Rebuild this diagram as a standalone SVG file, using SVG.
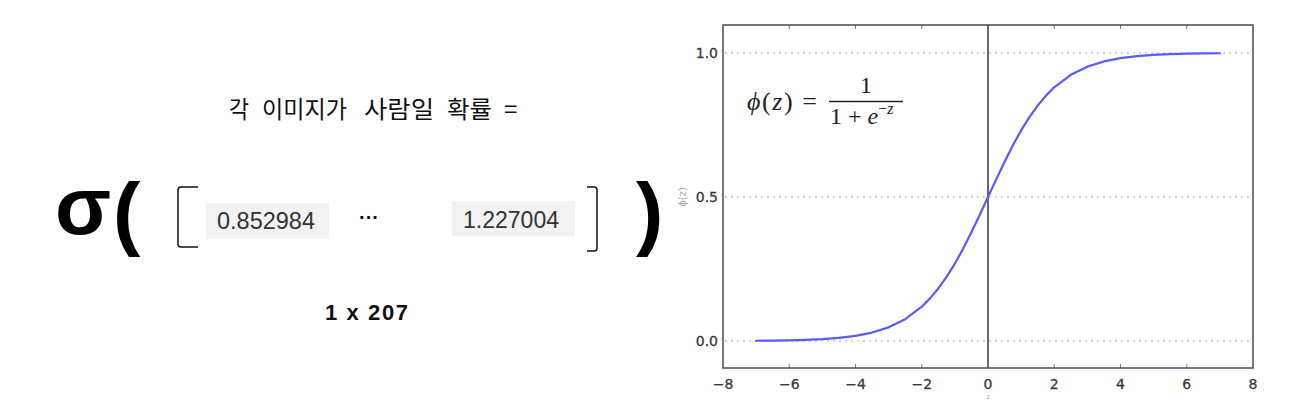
<svg xmlns="http://www.w3.org/2000/svg" width="1293" height="401" viewBox="0 0 1293 401">
<style>
.kr{font-family:"Noto Sans CJK KR","Noto Sans",sans-serif;font-size:24px;fill:#111}
.num{font-family:"Liberation Sans",Arial,sans-serif;font-size:23px;fill:#333}
.big{font-family:"Liberation Sans",Arial,sans-serif;font-weight:bold;font-size:82px;fill:#000}
.box{fill:#f2f2f2}
.brk{fill:none;stroke:#111;stroke-width:1.5}
.tick{font-family:"DejaVu Sans",sans-serif;font-size:14px;fill:#3a3a3a;stroke:#3a3a3a;stroke-width:0.3}
.grid{stroke:#aaa;stroke-width:1.2;stroke-dasharray:2 4}
.frame{fill:none;stroke:#555;stroke-width:1.6}
.tk{stroke:#777;stroke-width:1}
.math{font-family:"Liberation Serif","DejaVu Serif",serif;fill:#222}
</style>
<rect width="1293" height="401" fill="#fff"/>
<g id="title">
<text class="kr" x="229" y="118" textLength="20" lengthAdjust="spacingAndGlyphs">각</text>
<text class="kr" x="262" y="118" textLength="85" lengthAdjust="spacingAndGlyphs">이미지가</text>
<text class="kr" x="364" y="118" textLength="70" lengthAdjust="spacingAndGlyphs">사람일</text>
<text class="kr" x="447" y="118" textLength="45" lengthAdjust="spacingAndGlyphs">확률</text>
<text class="kr" x="504" y="118">=</text>
</g>
<g id="sigma">
<text class="big" x="55" y="234">σ<tspan dx="2" dy="6">(</tspan></text>
<text class="big" x="636" y="240">)</text>
</g>
<g id="vector">
<path class="brk" d="M198,187 H181 Q178,187 178,190 V244 Q178,247 181,247 H198"/>
<path class="brk" d="M587,187 H594 Q597,187 597,190 V248 Q597,251 594,251 H587"/>
<rect class="box" x="206" y="203" width="123" height="36"/>
<text class="num" x="217" y="229" textLength="98" lengthAdjust="spacingAndGlyphs">0.852984</text>
<text x="369" y="224" text-anchor="middle" font-family="Liberation Sans,Arial,sans-serif" font-size="20" font-weight="bold" fill="#111">···</text>
<rect class="box" x="452" y="201" width="123" height="35"/>
<text class="num" x="463" y="228" textLength="96" lengthAdjust="spacingAndGlyphs">1.227004</text>
</g>
<g id="shape-label">
<text x="325" y="320" font-family="Liberation Sans,Arial,sans-serif" font-size="22" font-weight="bold" fill="#111" textLength="83" lengthAdjust="spacing">1 x 207</text>
</g>
<g id="plot">
<line class="grid" x1="725" y1="53" x2="1252" y2="53"/>
<line class="grid" x1="725" y1="197" x2="1252" y2="197"/>
<line class="grid" x1="725" y1="341" x2="1252" y2="341"/>
<g class="tk">
<path d="M789.25,25v4M855.5,25v4M921.75,25v4M1054.25,25v4M1120.5,25v4M1186.75,25v4M789.25,368v-4M855.5,368v-4M921.75,368v-4M1054.25,368v-4M1120.5,368v-4M1186.75,368v-4"/>
</g>
<line x1="988" y1="25" x2="988" y2="368" stroke="#444" stroke-width="1.6"/>
<polyline fill="none" stroke="#5a5aff" stroke-width="2.2" stroke-linejoin="round" stroke-linecap="round" points="756.1,340.74 772.7,340.57 789.25,340.29 805.8,339.83 822.4,339.07 838.9,337.84 855.5,335.82 872.1,332.56 888.6,327.34 905.2,319.15 921.75,306.67 930,298.36 938.3,288.46 946.6,276.86 954.9,263.55 963.2,248.6 971.4,232.27 979.7,214.91 988,197 996.3,179.09 1004.6,161.73 1012.8,145.4 1021.1,130.45 1029.4,117.14 1037.7,105.54 1046,95.64 1054.25,87.33 1070.8,74.85 1087.4,66.66 1103.9,61.44 1120.5,58.18 1137.1,56.16 1153.6,54.93 1170.2,54.17 1186.75,53.71 1203.3,53.43 1219.9,53.26"/>
<rect class="frame" x="723" y="25" width="530" height="343"/>
<g class="tick" text-anchor="end">
<text x="718" y="58">1.0</text>
<text x="718" y="202">0.5</text>
<text x="718" y="346">0.0</text>
</g>
<g class="tick" text-anchor="middle">
<text x="723" y="389">−8</text>
<text x="789.25" y="389">−6</text>
<text x="855.5" y="389">−4</text>
<text x="921.75" y="389">−2</text>
<text x="988" y="389">0</text>
<text x="1054.25" y="389">2</text>
<text x="1120.5" y="389">4</text>
<text x="1186.75" y="389">6</text>
<text x="1253" y="389">8</text>
</g>
<text transform="translate(686,197) rotate(-90)" text-anchor="middle" font-family="DejaVu Sans,sans-serif" font-size="10" fill="#aaa">ϕ(z)</text>
<text x="988" y="399" text-anchor="middle" font-family="DejaVu Sans,sans-serif" font-size="7" fill="#aaa">z</text>
</g>
<g id="formula" class="math">
<text x="747" y="110" font-size="26" textLength="70" lengthAdjust="spacing"><tspan font-style="italic">ϕ</tspan>(<tspan font-style="italic">z</tspan>) =</text>
<text x="866" y="93" font-size="24" text-anchor="middle">1</text>
<line x1="829" y1="101.5" x2="903" y2="101.5" stroke="#222" stroke-width="1.4"/>
<text x="830" y="124" font-size="24">1 + <tspan font-style="italic">e</tspan><tspan font-size="16" dy="-10">−<tspan font-style="italic">z</tspan></tspan></text>
</g>
</svg>
